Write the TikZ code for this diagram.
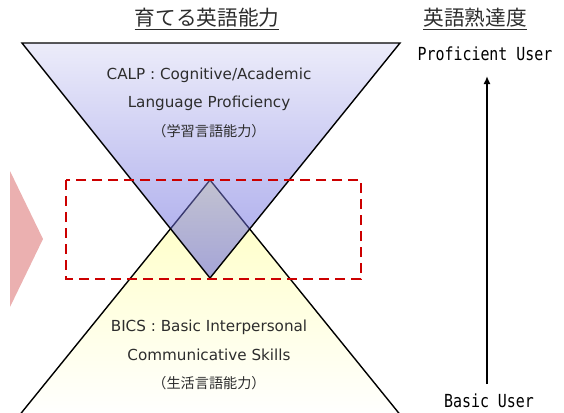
\documentclass[tikz,border=0pt]{standalone}
\usepackage{fontspec}
\setmainfont{DejaVu Sans}
\newfontfamily\jpfont{Noto Sans CJK JP}
\newfontfamily\userfont[FakeStretch=0.83]{DejaVu Sans Mono}
\usetikzlibrary{arrows.meta}
\definecolor{txtgray}{RGB}{45,45,45}
\definecolor{calptop}{RGB}{217,217,245}
\definecolor{calpbot}{RGB}{75,75,215}
\definecolor{bicstop}{RGB}{255,255,190}
\definecolor{zonered}{RGB}{204,0,0}
\definecolor{markpink}{RGB}{235,176,176}

\begin{document}
\begin{tikzpicture}[x=0.75pt,y=-0.75pt,
        eng/.style={text=txtgray,font=\fontsize{11.4}{13}\selectfont},
        jp/.style={text=txtgray,font=\jpfont\fontsize{10.6}{12}\selectfont},
        head/.style={text=txtgray,font=\jpfont\fontsize{15.5}{18}\selectfont},
        user/.style={text=black,font=\userfont\fontsize{13.5}{15}\selectfont}]
                \useasboundingbox (0,0) rectangle (564,412);

                \coordinate (CL) at (22,43);
                \coordinate (CR) at (400,43);
                \coordinate (CA) at (210,278);
                \coordinate (BA) at (210,180);
                \coordinate (BL) at (18,417);
                \coordinate (BR) at (402,417);

                \shade[top color=bicstop,bottom color=white] (BA) -- (BR) -- (BL) -- cycle;
                \draw[line width=1.05pt] (BL) -- (BA) -- (BR);
                \shade[top color=calptop,bottom color=calpbot,fill opacity=0.5] (CL) -- (CR) -- (CA) -- cycle;
                \draw[line width=1.05pt,line join=miter] (CL) -- (CR) -- (CA) -- cycle;

                \fill[markpink] (10,171) -- (43,239) -- (10,307) -- cycle;
                \draw[zonered,line width=1.9pt,dash pattern=on 7.5pt off 4.5pt] (66,180) rectangle (361,279);

                \node[head] (SKILL) at (207,19) {\underline{育てる英語能力}};
                \node[head] (LEVEL) at (475,19) {\underline{英語熟達度}};

                \node[eng] (CALP1) at (209,75) {CALP : Cognitive/Academic};
                \node[eng] (CALP2) at (209,103) {Language Proficiency};
                \node[jp] (CALP3) at (209,131) {（学習言語能力）};
                \node[eng] (BICS1) at (209,327) {BICS : Basic Interpersonal};
                \node[eng] (BICS2) at (209,355) {Communicative Skills};
                \node[jp] (BICS3) at (209,383) {（生活言語能力）};

                \node[user] (PRO) at (485,54) {Proficient User};
                \node[user] (BAS) at (489,401) {Basic User};
                \coordinate (ARRB) at (487,384);
                \coordinate (ARRT) at (487,76);
                \draw[-{Latex[length=6pt,width=5.25pt]},line width=1.5pt] (ARRB) -- (ARRT);
        \end{tikzpicture}
\end{document}
